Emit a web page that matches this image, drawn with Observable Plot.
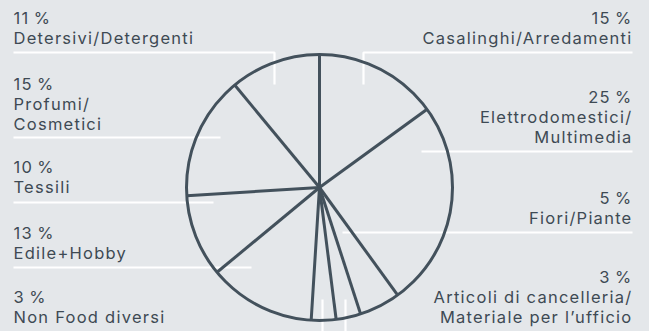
<!DOCTYPE html>
<html>
<head>
<meta charset="utf-8">
<script src="https://cdn.jsdelivr.net/npm/d3@7"></script>
<script src="https://cdn.jsdelivr.net/npm/@observablehq/plot@0.6"></script>
<style>
  html, body { margin: 0; padding: 0; background: #e4e7ea; }
  #chart svg { display: block; }
</style>
</head>
<body>
<div id="chart"></div>
<script>
// ---- data (clockwise from 12 o'clock) ----
const categories = [
  "Casalinghi/Arredamenti",
  "Elettrodomestici/\nMultimedia",
  "Fiori/Piante",
  "Articoli di cancelleria/\nMateriale per l’ufficio",
  "Non Food diversi",
  "Edile+Hobby",
  "Tessili",
  "Profumi/\nCosmetici",
  "Detersivi/Detergenti"
];
const shares = [15, 25, 5, 3, 3, 13, 10, 15, 11];

// ---- layout ----
const W = 649, H = 331;
const cx = 319, cy = 187, R = 133;
const ink = "#43515c";
const textInk = "#3e4a54";
const leftX = 13, rightX = 632;

// label layout per category: side, baseline of last text line, leader path
const labelLayout = [
  {side: "right", base: 43,  leader: [[rightX, 52], [363, 52], [363, 84]]},
  {side: "right", base: 142, leader: [[rightX, 151], [421, 151]]},
  {side: "right", base: 223, leader: [[rightX, 232], [342, 232]]},
  {side: "right", base: 322, leader: [[345, 334], [345, 299]]},
  {side: "left",  base: 322, leader: [[322, 334], [322, 299]]},
  {side: "left",  base: 258, leader: [[leftX, 267], [251, 267]]},
  {side: "left",  base: 192, leader: [[leftX, 202], [213, 202]]},
  {side: "left",  base: 129, leader: [[leftX, 137], [220, 137]]},
  {side: "left",  base: 43,  leader: [[leftX, 52], [274, 52], [274, 84]]}
];

// ---- derived geometry ----
const total = d3.sum(shares);
const cum = d3.cumsum(shares);
const boundaries = [0, ...Array.from(cum).slice(0, -1)].map(c => c / total * 2 * Math.PI);
const spokes = boundaries.map(a => ({
  x1: cx, y1: cy,
  x2: cx + R * Math.sin(a), y2: cy - R * Math.cos(a)
}));

const leaderSegs = [];
labelLayout.forEach((l, i) => l.leader.forEach(([x, y]) => leaderSegs.push({x, y, k: i})));

const labels = categories.map((c, i) => ({
  text: `${shares[i]}\u2009%\n${c}`,
  x: labelLayout[i].side === "left" ? leftX : rightX,
  y: labelLayout[i].base,
  anchor: labelLayout[i].side === "left" ? "start" : "end"
}));

const chart = Plot.plot({
  width: W,
  height: H,
  margin: 0,
  x: {domain: [0, W], range: [0, W], axis: null},
  y: {domain: [0, H], range: [0, H], axis: null},
  style: {background: "#e4e7ea", fontFamily: "Inter, sans-serif", overflow: "hidden"},
  marks: [
    Plot.line(leaderSegs, {x: "x", y: "y", z: "k", stroke: "#ffffff", strokeWidth: 2.2, strokeLinecap: "butt", strokeLinejoin: "miter"}),
    Plot.dot([{x: cx, y: cy}], {x: "x", y: "y", r: R, stroke: ink, strokeWidth: 3, fill: "none"}),
    Plot.link(spokes, {x1: "x1", y1: "y1", x2: "x2", y2: "y2", stroke: ink, strokeWidth: 3, strokeLinecap: "butt"}),
    Plot.text(labels.filter(d => d.anchor === "start"), {
      x: "x", y: "y", text: "text", textAnchor: "start", lineAnchor: "bottom",
      fontSize: 16.5, lineHeight: 1.19, fill: textInk
    }),
    Plot.text(labels.filter(d => d.anchor === "end"), {
      x: "x", y: "y", text: "text", textAnchor: "end", lineAnchor: "bottom",
      fontSize: 16.5, lineHeight: 1.19, fill: textInk
    })
  ]
});
chart.querySelectorAll("text").forEach(t => t.style.letterSpacing = "1.25px");
document.getElementById("chart").appendChild(chart);
</script>
</body>
</html>
